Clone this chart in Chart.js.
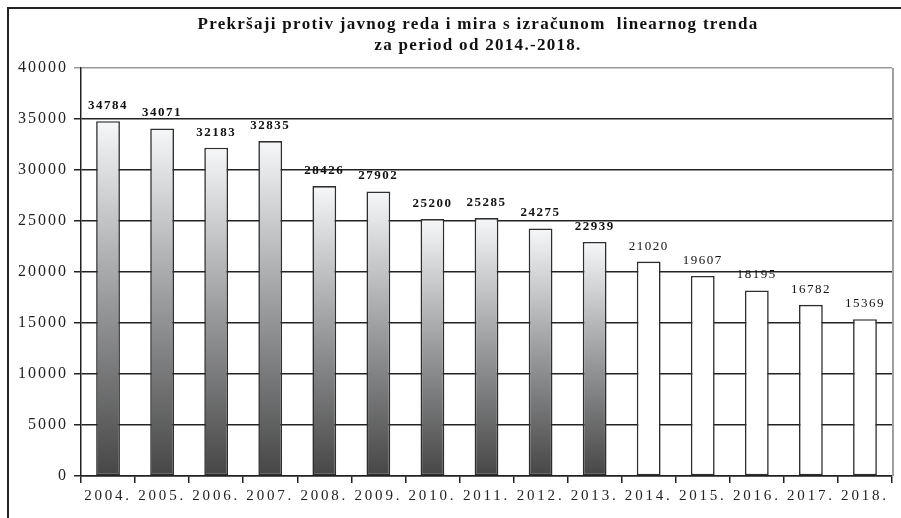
<!DOCTYPE html>
<html>
<head>
<meta charset="utf-8">
<script src="https://cdn.jsdelivr.net/npm/chart.js@4.4.1/dist/chart.umd.min.js"></script>
<style>
  html, body { margin: 0; padding: 0; background: #fff; }
  #wrap { width: 901px; height: 518px; }
</style>
</head>
<body>
<div id="wrap"><canvas id="chart" width="901" height="518"></canvas></div>
<script>
// Data
const years = ['2004.', '2005.', '2006.', '2007.', '2008.', '2009.', '2010.', '2011.',
  '2012.', '2013.', '2014.', '2015.', '2016.', '2017.', '2018.'];
const offences = [34784, 34071, 32183, 32835, 28426, 27902, 25200, 25285,
  24275, 22939, 21020, 19607, 18195, 16782, 15369];
// first 10 are recorded, the rest is the linear trend
const actualCount = 10;
const yTicks = [0, 5000, 10000, 15000, 20000, 25000, 30000, 35000, 40000];
const titleLines = ['Prekršaji protiv javnog reda i mira s izračunom  linearnog trenda',
  'za period od 2014.-2018.'];

const serif = '"Liberation Serif", "Times New Roman", serif';

function barFill(ctx) {
  const chart = ctx.chart;
  if (ctx.dataIndex >= actualCount) return '#ffffff';
  if (!chart.chartArea) return '#888';
  const y = chart.scales.y;
  const top = y.getPixelForValue(ctx.raw);
  const base = y.getPixelForValue(0);
  const g = chart.ctx.createLinearGradient(0, base, 0, top);
  g.addColorStop(0, '#464646');
  g.addColorStop(0.5, '#9a9b9d');
  g.addColorStop(1, '#f6f7f8');
  return g;
}

// the tick labels in the original are widely spaced
function spaceLabels(scale, spacing) {
  if (scale._spaced) return;
  const orig = scale.drawLabels;
  scale.drawLabels = function (area) {
    const c = this.ctx;
    c.save();
    c.letterSpacing = spacing;
    orig.call(this, area);
    c.restore();
  };
  scale._spaced = true;
}

// frame, title, right border, value labels
const decor = {
  id: 'decor',
  beforeDraw(chart) {
    spaceLabels(chart.scales.x, '2.8px');
    spaceLabels(chart.scales.y, '2px');
  },
  afterDraw(chart) {
    const c = chart.ctx;
    const area = chart.chartArea;
    c.save();
    // outer frame (cropped at right/bottom)
    c.strokeStyle = '#222';
    c.lineWidth = 2;
    c.beginPath();
    c.moveTo(8, 518);
    c.lineTo(8, 8);
    c.lineTo(901, 8);
    c.stroke();
    // plot right border
    c.strokeStyle = '#a0a0a0';
    c.beginPath();
    c.moveTo(area.right + 1, area.top);
    c.lineTo(area.right + 1, area.bottom);
    c.stroke();
    // title
    c.fillStyle = '#111';
    c.letterSpacing = '1.3px';
    c.font = 'bold 17px ' + serif;
    c.textAlign = 'center';
    c.textBaseline = 'middle';
    c.fillText(titleLines[0], 478, 25);
    c.fillText(titleLines[1], 478, 46);
    // value labels
    c.letterSpacing = '1.5px';
    const meta = chart.getDatasetMeta(0);
    meta.data.forEach((bar, i) => {
      c.font = (i < actualCount ? 'bold ' : '') + '13px ' + serif;
      c.textBaseline = 'bottom';
      c.fillText(String(offences[i]), bar.x, bar.y - 9);
    });
    c.restore();
  }
};

new Chart(document.getElementById('chart'), {
  type: 'bar',
  data: {
    labels: years,
    datasets: [{
      data: offences,
      backgroundColor: barFill,
      borderColor: '#2e2e2e',
      borderWidth: 1.6,
      borderSkipped: false,
      barPercentage: 0.44,
      categoryPercentage: 1
    }]
  },
  options: {
    responsive: false,
    animation: false,
    events: [],
    layout: { padding: { top: 68, left: 14, right: 9, bottom: 9 } },
    plugins: {
      legend: { display: false },
      tooltip: { enabled: false }
    },
    scales: {
      x: {
        grid: {
          offset: true,
          drawOnChartArea: false,
          drawTicks: true,
          tickLength: 7,
          color: '#222',
          lineWidth: 1.5
        },
        border: { color: '#222', width: 1.5 },
        ticks: {
          color: '#222',
          font: { family: serif, size: 15 },
          padding: 4,
          maxRotation: 0
        }
      },
      y: {
        min: 0,
        max: 40000,
        afterBuildTicks(axis) { axis.ticks = yTicks.map(v => ({ value: v })); },
        afterFit(axis) { axis.width = 67; },
        grid: {
          color: (ctx) => ctx.tick && ctx.tick.value === 40000 ? '#999' : '#222',
          lineWidth: 1.5,
          tickLength: 7
        },
        border: { color: '#222', width: 1.5 },
        ticks: {
          color: '#222',
          font: { family: serif, size: 16 },
          padding: 6,
          callback: (v) => String(v)
        }
      }
    }
  },
  plugins: [decor]
});
</script>
</body>
</html>
